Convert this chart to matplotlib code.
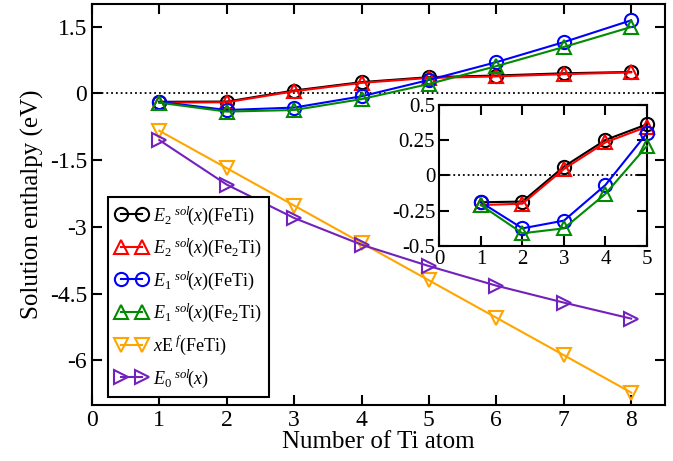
import numpy as np
import matplotlib
matplotlib.use("Agg")
import matplotlib.pyplot as plt

plt.rcParams['font.family'] = ['Liberation Serif', 'DejaVu Serif']
plt.rcParams['mathtext.fontset'] = 'custom'
plt.rcParams['mathtext.rm'] = 'Liberation Serif'
plt.rcParams['mathtext.it'] = 'Liberation Serif:italic'
plt.rcParams['axes.unicode_minus'] = False

# number of Ti atoms
n_ti = [1, 2, 3, 4, 5, 6, 7, 8]

# solution enthalpies (eV)
e2_feti = [-0.19, -0.185, 0.063, 0.252, 0.363, 0.40, 0.45, 0.48]
e2_fe2ti = [-0.21, -0.20, 0.046, 0.235, 0.346, 0.38, 0.43, 0.47]
e1_feti = [-0.19, -0.375, -0.32, -0.067, 0.30, 0.70, 1.15, 1.64]
e1_fe2ti = [-0.21, -0.41, -0.375, -0.13, 0.21, 0.61, 1.04, 1.49]
xef_feti = [-0.84, -1.68, -2.52, -3.36, -4.20, -5.04, -5.88, -6.72]
e0_sol = [-1.05, -2.05, -2.80, -3.40, -3.88, -4.32, -4.70, -5.06]

labels = [r'$E_{\mathit{2}}{}^{\ sol}\!(x)$(FeTi)',
          r'$E_{\mathit{2}}{}^{\ sol}\!(x)$(Fe$_2$Ti)',
          r'$E_{\mathit{1}}{}^{\ sol}\!(x)$(FeTi)',
          r'$E_{\mathit{1}}{}^{\ sol}\!(x)$(Fe$_2$Ti)',
          r'$x$E$^{\ f}$(FeTi)',
          r'$E_{\mathit{0}}{}^{\ sol}\!(x)$']
series = [e2_feti, e2_fe2ti, e1_feti, e1_fe2ti, xef_feti, e0_sol]
colors = ['black', 'red', 'blue', '#008b00', '#ffa500', '#7221bc']
markers = ['o', '^', 'o', '^', 'v', '>']

fig = plt.figure(figsize=(6.73, 4.61), dpi=100)
ax = fig.add_axes([0.1365, 0.1215, 0.8514, 0.8692])

ax.axhline(0, color='black', ls=':', lw=1.3, zorder=1)
for y, lab, c, m in zip(series, labels, colors, markers):
    ax.plot(n_ti, y, color=c, marker=m, ms=9.5, mfc='none', mec=c, mew=1.5,
            lw=1.5, label=lab, zorder=3)

ax.set_xlim(0, 8.5)
ax.set_ylim(-7, 2)
ax.set_xticks(range(0, 9))
yt = [1.5, 0, -1.5, -3, -4.5, -6]
ax.set_yticks(yt)
ax.set_yticklabels(['1.5', '0', '-1.5', '-3', '-4.5', '-6'])
ax.tick_params(direction='in', length=7, width=1.5, top=True, right=True,
               labelsize=17)
for s in ax.spines.values():
    s.set_linewidth(1.5)
ax.set_xlabel('Number of Ti atom', fontsize=18, labelpad=0)
ax.set_ylabel('Solution enthalpy (eV)', fontsize=18, labelpad=4)

leg = ax.legend(loc='lower left', bbox_to_anchor=(0.028, 0.02), fontsize=13,
                numpoints=2, handlelength=1.8, handletextpad=0.3,
                labelspacing=0.55, borderpad=0.4, borderaxespad=0,
                fancybox=False, framealpha=1, edgecolor='black')
leg.get_frame().set_linewidth(1.5)

# inset
ins = fig.add_axes([0.6528, 0.4664, 0.3086, 0.3059])
ins.axhline(0, color='black', ls=':', lw=1.3, zorder=1)
for y, c, m in zip(series[:4], colors[:4], markers[:4]):
    ins.plot(n_ti[:5], y[:5], color=c, marker=m, ms=9.5, mfc='none', mec=c,
             mew=1.5, lw=1.5, clip_on=False, zorder=3)
ins.set_xlim(0, 5)
ins.set_ylim(-0.5, 0.5)
ins.set_xticks(range(0, 6))
ins.set_yticks([-0.5, -0.25, 0, 0.25, 0.5])
ins.set_yticklabels(['-0.5', '-0.25', '0', '0.25', '0.5'])
ins.tick_params(direction='in', length=7, width=1.5, top=True, right=True,
                labelsize=15, pad=3)
for s in ins.spines.values():
    s.set_linewidth(1.5)

fig.savefig('out.png', dpi=100)
